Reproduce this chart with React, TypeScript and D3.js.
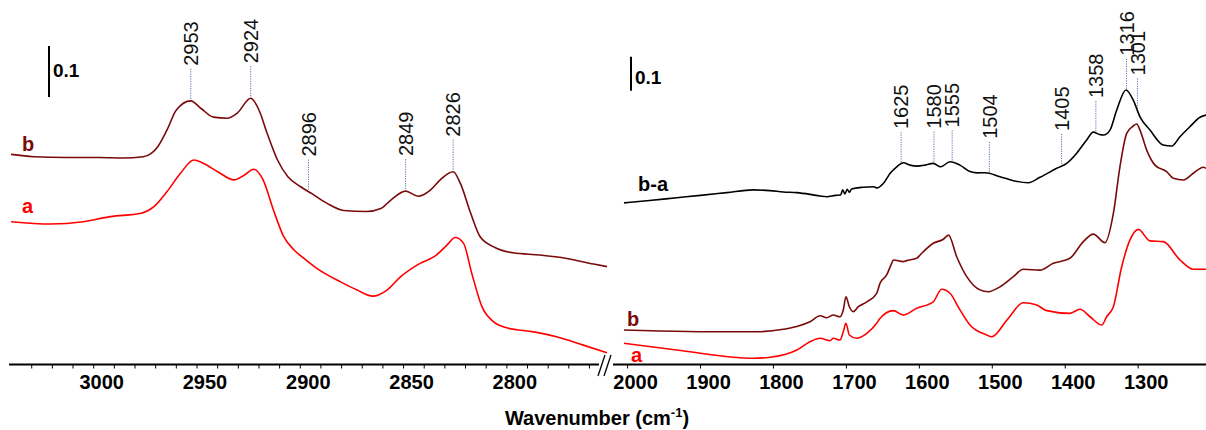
import React from "react";
import * as d3 from "d3";

// Spectra: [wavenumber (cm-1), absorbance incl. stacking offset]
const leftB: [number, number][] = [
  [3040, 0.411], [3029, 0.4065], [3013, 0.405], [2997, 0.405], [2986, 0.404], [2976, 0.4065],
  [2969, 0.426], [2964.5, 0.459], [2960, 0.498], [2953, 0.516], [2948, 0.501], [2942, 0.484],
  [2935.5, 0.482], [2930.5, 0.492], [2924, 0.521], [2920, 0.498], [2916, 0.452], [2911, 0.4],
  [2906, 0.367], [2900, 0.348], [2894, 0.333], [2887, 0.315], [2879, 0.301], [2868, 0.299],
  [2861, 0.305], [2856, 0.322], [2849, 0.339], [2843, 0.329], [2837, 0.341], [2832, 0.362],
  [2826, 0.377], [2822.5, 0.354], [2817.5, 0.2955], [2813, 0.25], [2806, 0.229], [2797, 0.218],
  [2784, 0.2137], [2771, 0.207], [2758, 0.196], [2751.5, 0.191],
];

const leftA: [number, number][] = [
  [3040, 0.279], [3021, 0.2745], [3005, 0.279], [2992, 0.289], [2977, 0.2955], [2971, 0.308],
  [2964.5, 0.338], [2958, 0.374], [2951.5, 0.4], [2947, 0.3935], [2940, 0.377], [2932, 0.361],
  [2927, 0.3706], [2922.5, 0.382], [2918, 0.361], [2913, 0.302], [2908, 0.2496], [2903, 0.2235],
  [2898.5, 0.208], [2892, 0.1876], [2880.5, 0.161], [2872.5, 0.145], [2865, 0.133], [2858, 0.145],
  [2851.5, 0.171], [2843.5, 0.194], [2834, 0.214], [2829, 0.233], [2825, 0.248], [2821, 0.237],
  [2817, 0.178], [2812, 0.112], [2806.5, 0.083], [2800, 0.071], [2787, 0.063], [2776, 0.0535],
  [2763, 0.037], [2751.5, 0.022],
];

const rightBA: [number, number][] = [
  [2005, 0.474], [1970, 0.481], [1932.7, 0.489], [1900, 0.496], [1864, 0.504], [1827.7, 0.512],
  [1804.8, 0.51], [1786.5, 0.506], [1768, 0.504], [1750, 0.499], [1736, 0.494], [1727, 0.492],
  [1715, 0.496], [1708, 0.497], [1705, 0.512], [1702, 0.5], [1699, 0.514], [1696, 0.505],
  [1693, 0.515], [1677, 0.52], [1663, 0.5215], [1658.5, 0.518], [1649.4, 0.531], [1640, 0.561],
  [1631, 0.58], [1622, 0.592], [1612.8, 0.585], [1603.6, 0.582], [1592, 0.585], [1581, 0.59],
  [1570.7, 0.58], [1558, 0.595], [1544.3, 0.585], [1530.6, 0.566], [1520, 0.562], [1510, 0.5626],
  [1489.4, 0.551], [1471, 0.539], [1450.6, 0.533], [1434.6, 0.549], [1411.7, 0.5756], [1398, 0.59],
  [1384.3, 0.62], [1370.6, 0.659], [1361.5, 0.682], [1353, 0.675], [1347.8, 0.6735], [1338.6, 0.688],
  [1329.4, 0.747], [1316.7, 0.806], [1306.7, 0.776], [1297.5, 0.727], [1283.8, 0.688], [1265.6, 0.644],
  [1254, 0.641], [1242.7, 0.6685], [1229, 0.698], [1215.2, 0.7256], [1207, 0.732],
];

const rightB: [number, number][] = [
  [2005, 0.1], [1955.6, 0.097], [1887, 0.095], [1823, 0.095], [1786.5, 0.102], [1768, 0.11],
  [1750, 0.124], [1736, 0.142], [1727, 0.136], [1718, 0.144], [1708.8, 0.139], [1704.3, 0.159],
  [1700.6, 0.198], [1696, 0.1685], [1690.6, 0.154], [1683.7, 0.1685], [1672, 0.183], [1658.5, 0.208],
  [1654, 0.237], [1644.8, 0.262], [1638, 0.296], [1635.7, 0.306], [1622, 0.301], [1617.4, 0.304],
  [1603, 0.312], [1599, 0.3206], [1581, 0.355], [1567, 0.367], [1560, 0.379], [1548.8, 0.3156],
  [1535, 0.257], [1517, 0.218], [1505.5, 0.2126], [1489.4, 0.227], [1471, 0.257], [1457.5, 0.2785],
  [1434.6, 0.276], [1416.4, 0.296], [1393.5, 0.311], [1375.2, 0.36], [1361.5, 0.382], [1345.5, 0.357],
  [1334, 0.443], [1325, 0.58], [1315.7, 0.6785], [1306.7, 0.7], [1302, 0.706], [1297.5, 0.688],
  [1288.3, 0.629], [1277, 0.585], [1261, 0.5656], [1251.8, 0.546], [1238, 0.541], [1224.4, 0.561],
  [1210.7, 0.5785], [1207, 0.5756],
];

const rightA: [number, number][] = [
  [2005, 0.061], [1932.7, 0.041], [1827.7, 0.0168], [1804.8, 0.0197], [1768, 0.041], [1750, 0.0656],
  [1736, 0.0756], [1722.5, 0.0685], [1718, 0.0756], [1708.8, 0.0706], [1704.3, 0.095], [1700.6, 0.1197],
  [1696, 0.0853], [1686, 0.0756], [1672, 0.09], [1658.5, 0.1197], [1654, 0.134], [1635.7, 0.157],
  [1622, 0.144], [1603.6, 0.164], [1581, 0.183], [1569.4, 0.2197], [1558, 0.208], [1544.3, 0.159],
  [1530.6, 0.1147], [1507.7, 0.0853], [1500.8, 0.08], [1480, 0.129], [1457.5, 0.18], [1439, 0.1735],
  [1425.4, 0.157], [1393.5, 0.149], [1379.8, 0.161], [1366, 0.139], [1350, 0.1147], [1343.2, 0.139],
  [1334, 0.1685], [1322.6, 0.286], [1311.2, 0.365], [1299.8, 0.396], [1283.8, 0.362], [1265.6, 0.36],
  [1242.7, 0.306], [1224.4, 0.2785], [1207, 0.2785],
];

const leftPeaks = [2953, 2924, 2896, 2849, 2826];
const rightPeaks = [1625, 1580, 1555, 1504, 1405, 1358, 1316, 1301];
const leftTicks = [3000, 2950, 2900, 2850, 2800];
const rightTicks = [2000, 1900, 1800, 1700, 1600, 1500, 1400, 1300];
const scaleBarValue = 0.1;

const FONT = "Arial, 'Liberation Sans', sans-serif";
const DARK_RED = "#7a0a0a";
const RED = "#ff0000";
const GUIDE = "#5577aa";

const W = 1206;
const H = 430;
const AXIS_Y = 364.5;

const xLeft = d3.scaleLinear().domain([3041, 2752]).range([9, 606]);
const xRight = d3.scaleLinear().domain([2020, 1207]).range([613, 1206]);
const yLeft = d3.scaleLinear().domain([0, 1]).range([364, -146]);
const yRight = d3.scaleLinear().domain([0, 1]).range([364, 24]);

function valueAt(series: [number, number][], wn: number): number {
  for (let i = 0; i < series.length - 1; i++) {
    const [w0, v0] = series[i];
    const [w1, v1] = series[i + 1];
    if ((wn <= w0 && wn >= w1) || (wn >= w0 && wn <= w1)) {
      const t = (wn - w0) / (w1 - w0);
      return v0 + t * (v1 - v0);
    }
  }
  return series[series.length - 1][1];
}

type Scale = d3.ScaleLinear<number, number>;

function Spectrum({ data, x, y, color }: { data: [number, number][]; x: Scale; y: Scale; color: string }) {
  const line = d3
    .line<[number, number]>()
    .x((d) => x(d[0]))
    .y((d) => y(d[1]))
    .curve(d3.curveMonotoneX);
  return <path d={line(data) ?? ""} fill="none" stroke={color} strokeWidth={1.6} strokeLinejoin="round" />;
}

function PeakLabels({ peaks, series, x, y }: { peaks: number[]; series: [number, number][]; x: Scale; y: Scale }) {
  return (
    <g>
      {peaks.map((p) => {
        const px = x(p);
        const py = y(valueAt(series, p));
        const top = py - 33;
        return (
          <g key={p}>
            <line x1={px} x2={px} y1={py - 2} y2={top} stroke={GUIDE} strokeWidth={1} strokeDasharray="1.2,1.2" />
            <text
              transform={`translate(${px},${top - 2}) rotate(-90)`}
              dy="0.36em"
              fontFamily={FONT}
              fontSize={20}
              fill="#111"
            >
              {p}
            </text>
          </g>
        );
      })}
    </g>
  );
}

function Axis({ x, ticks, minor, x0, x1 }: { x: Scale; ticks: number[]; minor: number[]; x0: number; x1: number }) {
  return (
    <g>
      <line x1={x0} x2={x1} y1={AXIS_Y} y2={AXIS_Y} stroke="#000" strokeWidth={2.2} />
      {minor.map((t) => (
        <line key={`m${t}`} x1={x(t)} x2={x(t)} y1={AXIS_Y} y2={AXIS_Y + 4} stroke="#000" strokeWidth={1} />
      ))}
      {ticks.map((t) => (
        <text
          key={t}
          x={x(t) + 8}
          y={AXIS_Y + 24}
          textAnchor="middle"
          fontFamily={FONT}
          fontWeight="bold"
          fontSize={20}
          fill="#000"
        >
          {t}
        </text>
      ))}
    </g>
  );
}

function ScaleBar({ x, y, base, labelDy }: { x: number; y: Scale; base: number; labelDy: number }) {
  const y0 = y(base);
  const y1 = y(base + scaleBarValue);
  return (
    <g>
      <line x1={x} x2={x} y1={y0} y2={y1} stroke="#000" strokeWidth={2} />
      <text x={x + 4} y={y1 + labelDy} fontFamily={FONT} fontWeight="bold" fontSize={19} fill="#000">
        {scaleBarValue}
      </text>
    </g>
  );
}

export default function App() {
  const leftMinor = d3.range(3030, 2752, -10);
  const rightMinor = d3.range(2000, 1207, -100);
  return (
    <svg
      width={W}
      height={H}
      viewBox={`0 0 ${W} ${H}`}
      style={{ position: "absolute", left: 0, top: 0, background: "#fff" }}
    >
      <rect x={0} y={0} width={W} height={H} fill="#fff" />

      {/* left panel: C-H stretching region */}
      <Spectrum data={leftA} x={xLeft} y={yLeft} color={RED} />
      <Spectrum data={leftB} x={xLeft} y={yLeft} color={DARK_RED} />
      <PeakLabels peaks={leftPeaks} series={leftB} x={xLeft} y={yLeft} />
      <ScaleBar x={49} y={yLeft} base={0.5235} labelDy={30.5} />
      <text x={22} y={151} fontFamily={FONT} fontWeight="bold" fontSize={20} fill={DARK_RED}>b</text>
      <text x={22} y={213} fontFamily={FONT} fontWeight="bold" fontSize={20} fill={RED}>a</text>
      <Axis x={xLeft} ticks={leftTicks} minor={leftMinor} x0={9} x1={599} />

      {/* right panel: fingerprint region */}
      <Spectrum data={rightA} x={xRight} y={yRight} color={RED} />
      <Spectrum data={rightB} x={xRight} y={yRight} color={DARK_RED} />
      <Spectrum data={rightBA} x={xRight} y={yRight} color="#000" />
      <PeakLabels peaks={rightPeaks} series={rightBA} x={xRight} y={yRight} />
      <ScaleBar x={631} y={yRight} base={0.804} labelDy={27} />
      <text x={638} y={191} fontFamily={FONT} fontWeight="bold" fontSize={20} fill="#000">b-a</text>
      <text x={627} y={326} fontFamily={FONT} fontWeight="bold" fontSize={20} fill={DARK_RED}>b</text>
      <text x={631} y={362} fontFamily={FONT} fontWeight="bold" fontSize={20} fill={RED}>a</text>
      <Axis x={xRight} ticks={rightTicks} minor={rightMinor} x0={613} x1={1206} />

      {/* axis break */}
      <line x1={598} y1={376} x2={605} y2={355} stroke="#000" strokeWidth={1.3} />
      <line x1={604} y1={376} x2={611} y2={355} stroke="#000" strokeWidth={1.3} />

      <text x={597} y={425} textAnchor="middle" fontFamily={FONT} fontWeight="bold" fontSize={20} fill="#000">
        Wavenumber (cm
        <tspan dy={-8} fontSize={13}>-1</tspan>
        <tspan dy={8}>)</tspan>
      </text>
    </svg>
  );
}
